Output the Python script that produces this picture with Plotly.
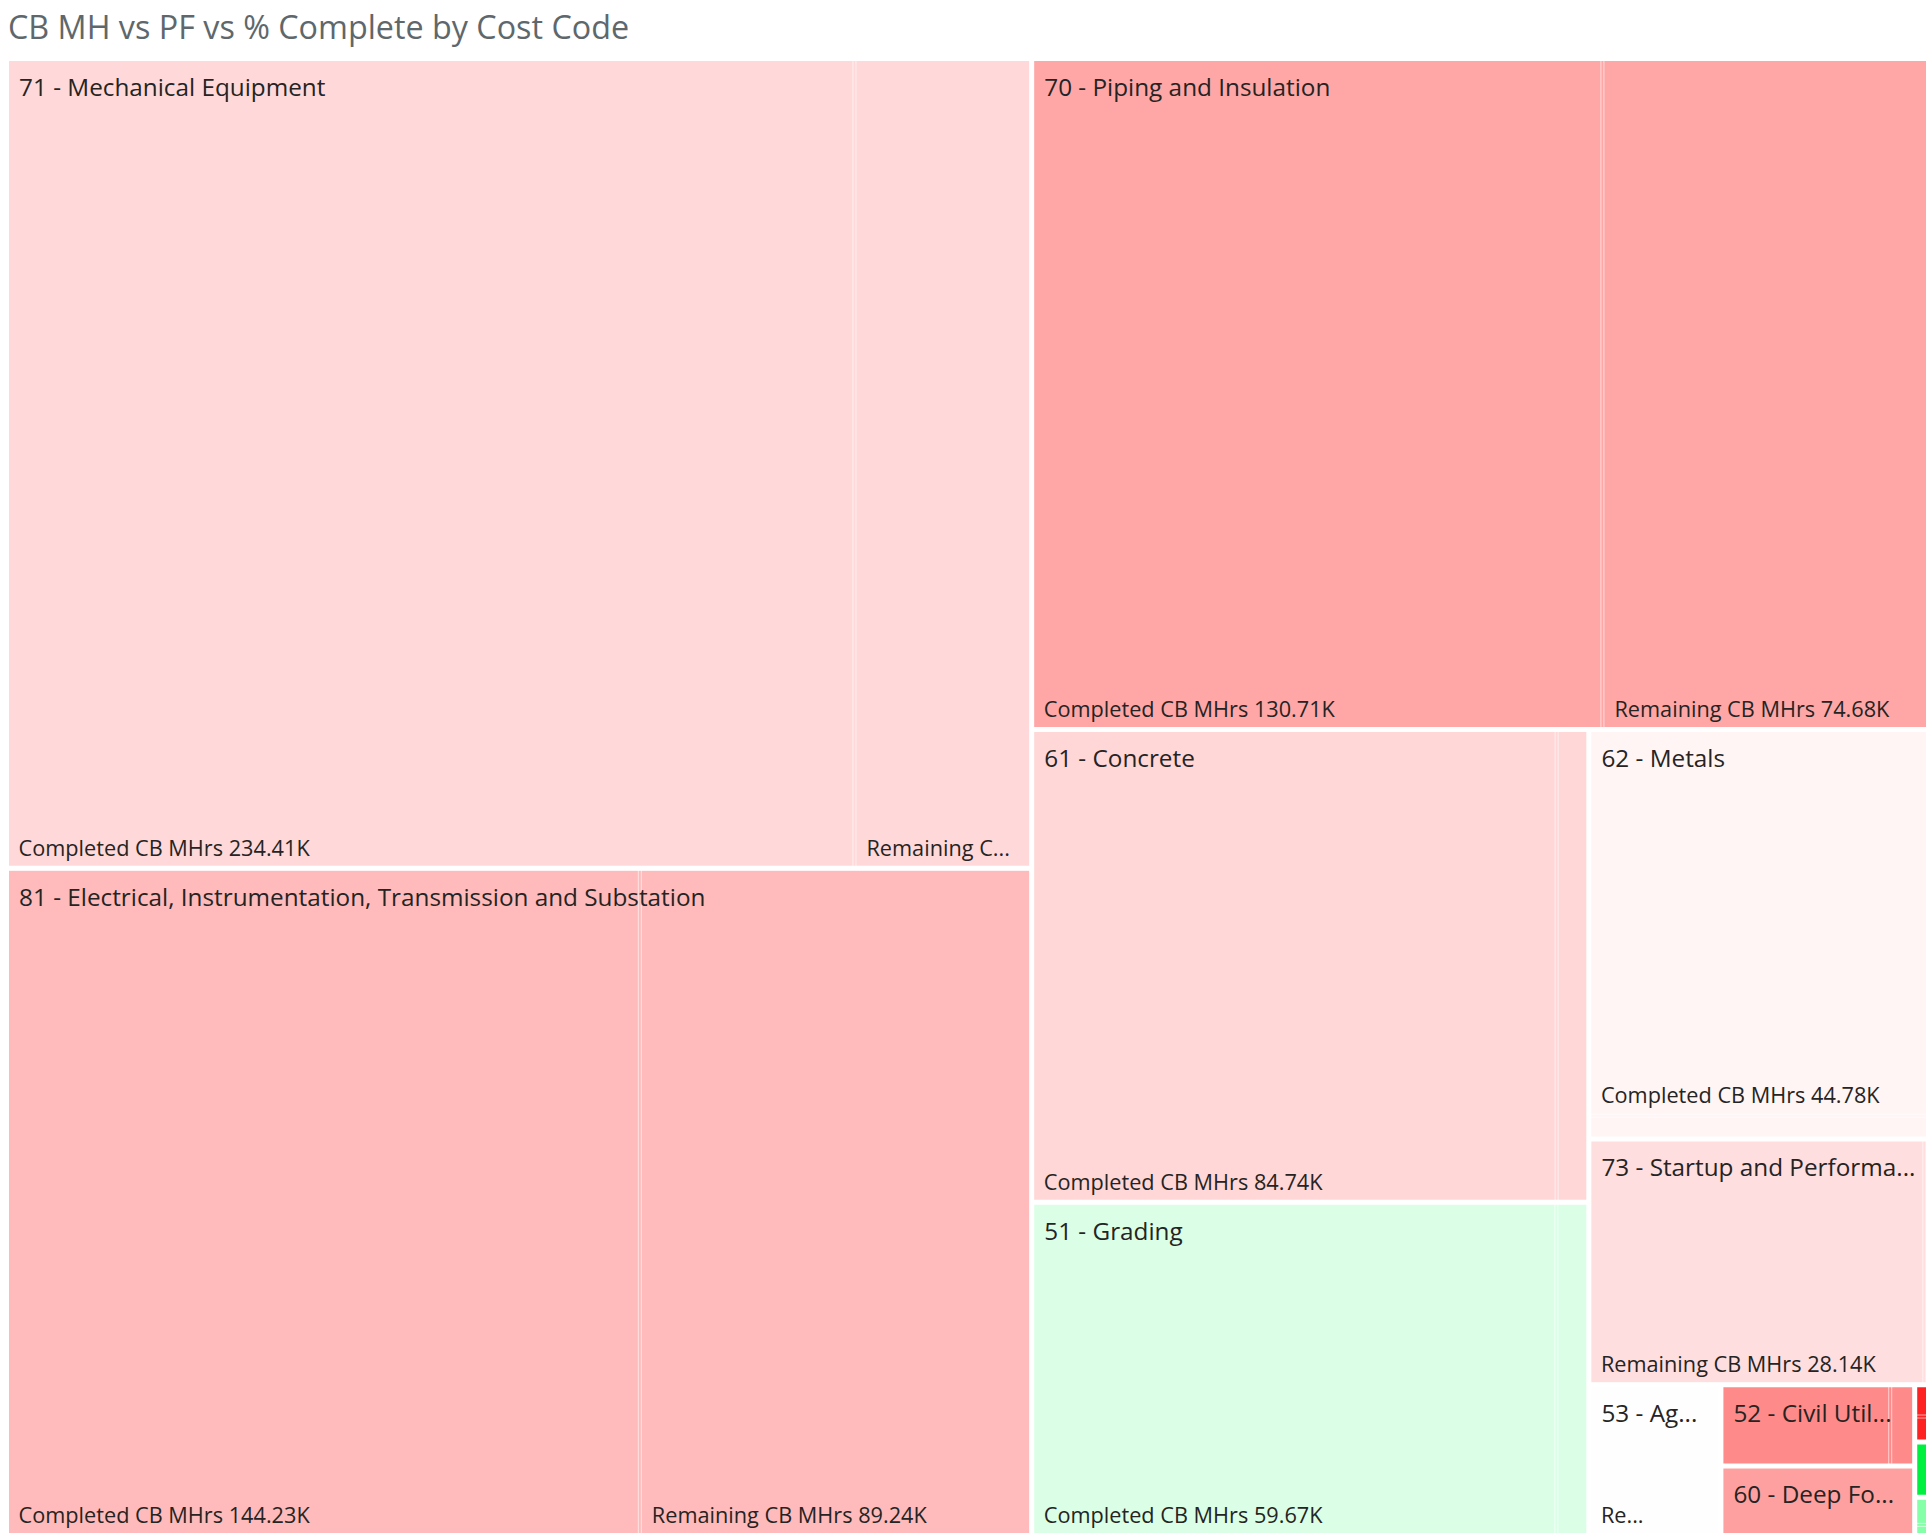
import plotly.graph_objects as go

# ---- data ----
group_ids = ["71", "81", "70", "61", "51", "62", "73", "53", "52", "60", "g1", "g2", "g3"]
group_labels = [
    "71 - Mechanical Equipment",
    "81 - Electrical, Instrumentation, Transmission and Substation",
    "70 - Piping and Insulation",
    "61 - Concrete",
    "51 - Grading",
    "62 - Metals",
    "73 - Startup and Performa...",
    "53 - Ag...",
    "52 - Civil Util...",
    "60 - Deep Fo...",
    "", "", "",
]
completed_k = [234.41, 144.23, 130.71, 84.74, 59.67, 44.78, 0.35, 0.0, 4.70, 4.60, 0.15, 0.26, 0.13]
remaining_k = [49.0, 89.24, 74.68, 5.2, 3.7, 2.7, 28.14, 6.8, 0.68, 0.0, 0.12, 0.0, 0.05]
completed_text = [
    "Completed CB MHrs 234.41K", "Completed CB MHrs 144.23K", "Completed CB MHrs 130.71K",
    "Completed CB MHrs 84.74K", "Completed CB MHrs 59.67K", "Completed CB MHrs 44.78K",
    "", "", "", "", "", "", "",
]
remaining_text = [
    "Remaining C...", "Remaining CB MHrs 89.24K", "Remaining CB MHrs 74.68K",
    "", "", "", "Remaining CB MHrs 28.14K", "Re...", "", "", "", "", "",
]
group_colors = ["#FFD9D9", "#FFBBBB", "#FFA7A7", "#FFD7D7", "#DBFFE6", "#FFF5F5", "#FFDEDF",
                "#FEFEFE", "#FF8A8A", "#FFA0A0", "#FF2222", "#00F040", "#85FFA8"]

TITLE = "CB MH vs PF vs % Complete by Cost Code"
FONT = "Open Sans, Noto Sans, sans-serif"
RATIO = (1 + 5 ** 0.5) / 2
# invisible leading spacers that give the labels their inset from the cell edges
LEAF_SPACER = '<span style="font-size:29px">&nbsp;</span>'
GROUP_SPACER = '<span style="font-size:31px">&nbsp;</span>'

# ---- hierarchical trace (leaves) ----
ids, labels, parents, values, texts, colors = [], [], [], [], [], []
for gid, glab, c, r, ct, rt, col in zip(group_ids, group_labels, completed_k, remaining_k,
                                        completed_text, remaining_text, group_colors):
    ids.append(gid)
    labels.append(glab or "Cost Code")
    parents.append("")
    values.append(0)
    texts.append("")
    colors.append(col)
    for kind, v, t in (("Completed CB MHrs", c, ct), ("Remaining CB MHrs", r, rt)):
        if v > 0:
            ids.append(gid + "/" + kind)
            labels.append(kind)
            parents.append(gid)
            values.append(v)
            texts.append(LEAF_SPACER + t if t else "")
            colors.append(col)

leaf_trace = go.Treemap(
    ids=ids, labels=labels, parents=parents, values=values,
    branchvalues="remainder", sort=True,
    text=texts, texttemplate="%{text}", textposition="bottom left",
    textfont=dict(family=FONT, size=21.7, color="#252423"),
    marker=dict(colors=colors, depthfade=False,
                line=dict(color="rgba(255,255,255,0.6)", width=1),
                pad=dict(t=0, l=0, r=0, b=0)),
    tiling=dict(packing="squarify", squarifyratio=RATIO),
    pathbar=dict(visible=False),
    hoverinfo="label+value",
)

# ---- group overlay trace (group labels + group borders) ----
group_totals = [c + r for c, r in zip(completed_k, remaining_k)]
group_trace = go.Treemap(
    ids=group_ids, labels=[l or "Cost Code" for l in group_labels],
    parents=[""] * len(group_ids), values=group_totals,
    branchvalues="total", sort=True,
    text=[GROUP_SPACER + l if l else "" for l in group_labels],
    texttemplate="%{text}", textposition="top left",
    textfont=dict(family=FONT, size=24.3, color="#252423"),
    marker=dict(colors=["rgba(0,0,0,0)"] * len(group_ids), depthfade=False,
                line=dict(color="white", width=2),
                pad=dict(t=0, l=0, r=0, b=0)),
    tiling=dict(packing="squarify", squarifyratio=RATIO),
    pathbar=dict(visible=False),
    hoverinfo="skip",
)

fig = go.Figure([leaf_trace, group_trace])
fig.update_layout(
    width=1932, height=1535,
    margin=dict(l=8, r=5, t=60, b=1, pad=0),
    paper_bgcolor="white",
    title=dict(text=TITLE, x=8 / 1932, xanchor="left", xref="container",
               y=1 - 28 / 1535, yanchor="middle", yref="container",
               font=dict(family=FONT, size=32.3, color="#5E686C")),
    showlegend=False,
)
fig.write_html("out.html")
